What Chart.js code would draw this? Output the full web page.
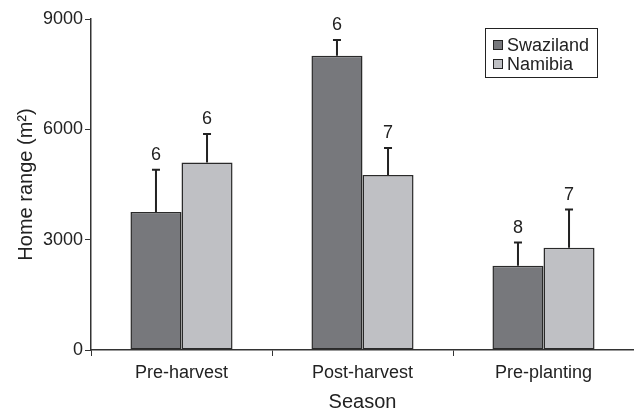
<!DOCTYPE html>
<html>
<head>
<meta charset="utf-8">
<script src="https://cdn.jsdelivr.net/npm/chart.js@4.4.1/dist/chart.umd.min.js"></script>
<style>
  html, body { margin: 0; padding: 0; background: #fff; }
  #wrap { width: 634px; height: 414px; }
</style>
</head>
<body>
<div id="wrap"><canvas id="hrChart"></canvas></div>
<script>
// datos
const seasons = ['Pre-harvest', 'Post-harvest', 'Pre-planting'];
const swazilandMean = [3750, 8000, 2290];
const swazilandErr = [1150, 430, 630];
const swazilandN = [6, 6, 8];
const namibiaMean = [5100, 4760, 2780];
const namibiaErr = [770, 730, 1040];
const namibiaN = [6, 7, 7];
const yTicks = [0, 3000, 6000, 9000];

const errs = [swazilandErr, namibiaErr];
const counts = [swazilandN, namibiaN];
const textColor = '#222';
const fontFam = '"Liberation Sans", Arial, sans-serif';

// barras de error + n arriba
const errorBarsPlugin = {
  id: 'errorBars',
  afterDatasetsDraw(chart) {
    const ctx = chart.ctx;
    const y = chart.scales.y;
    ctx.save();
    chart.data.datasets.forEach((ds, i) => {
      const meta = chart.getDatasetMeta(i);
      meta.data.forEach((bar, j) => {
        const top = y.getPixelForValue(ds.data[j] + errs[i][j]);
        ctx.strokeStyle = '#222';
        ctx.lineWidth = 2;
        ctx.beginPath();
        ctx.moveTo(bar.x, bar.y);
        ctx.lineTo(bar.x, top);
        ctx.moveTo(bar.x - 4, top);
        ctx.lineTo(bar.x + 4, top);
        ctx.stroke();
        ctx.fillStyle = textColor;
        ctx.font = '18px ' + fontFam;
        ctx.textAlign = 'center';
        ctx.textBaseline = 'alphabetic';
        ctx.fillText(String(counts[i][j]), bar.x, top - 10);
      });
    });
    ctx.restore();
  }
};

// leyenda con recuadro
const boxLegendPlugin = {
  id: 'boxLegend',
  afterDraw(chart) {
    const ctx = chart.ctx;
    const area = chart.chartArea;
    const x0 = area.right - 149, y0 = area.top + 9;
    const w = 112, h = 49;
    ctx.save();
    ctx.strokeStyle = '#222';
    ctx.lineWidth = 1;
    ctx.strokeRect(x0 + 0.5, y0 + 0.5, w, h);
    ctx.font = '18px ' + fontFam;
    ctx.textBaseline = 'middle';
    ctx.textAlign = 'left';
    chart.data.datasets.forEach((ds, i) => {
      const cy = y0 + 17 + i * 19;
      ctx.fillStyle = ds.backgroundColor;
      ctx.fillRect(x0 + 8, cy - 5, 10, 10);
      ctx.strokeStyle = '#222';
      ctx.strokeRect(x0 + 8.5, cy - 4.5, 9, 9);
      ctx.fillStyle = textColor;
      ctx.fillText(ds.label, x0 + 22, cy + 1);
    });
    ctx.restore();
  }
};

const ctx = document.getElementById('hrChart').getContext('2d');
new Chart(ctx, {
  type: 'bar',
  data: {
    labels: seasons,
    datasets: [
      {
        label: 'Swaziland',
        data: swazilandMean,
        backgroundColor: '#77787c',
        borderColor: '#2a2a2a',
        borderWidth: 1.5,
        borderSkipped: false,
        barPercentage: 1,
        categoryPercentage: 0.564
      },
      {
        label: 'Namibia',
        data: namibiaMean,
        backgroundColor: '#bfc0c4',
        borderColor: '#2a2a2a',
        borderWidth: 1.5,
        borderSkipped: false,
        barPercentage: 1,
        categoryPercentage: 0.564
      }
    ]
  },
  options: {
    responsive: true,
    maintainAspectRatio: false,
    animation: false,
    layout: { padding: { top: 19, right: 0, left: 0, bottom: 0 } },
    plugins: {
      legend: { display: false },
      tooltip: { enabled: false }
    },
    scales: {
      x: {
        grid: { display: true, drawOnChartArea: false, drawTicks: true, tickLength: 6, color: '#333', offset: true },
        border: { display: true, color: '#333', width: 1.5 },
        ticks: { color: textColor, font: { size: 18, family: fontFam }, padding: 6 },
        title: { display: true, text: 'Season', color: textColor, font: { size: 20, family: fontFam }, padding: { top: 0, bottom: 0 } },
        afterFit: function(scale) { scale.height = 64; }
      },
      y: {
        min: 0,
        max: 9000,
        afterBuildTicks: function(scale) { scale.ticks = yTicks.map(v => ({ value: v })); },
        grid: { display: true, drawOnChartArea: false, drawTicks: true, tickLength: 6, color: '#333' },
        border: { display: true, color: '#333', width: 1.5 },
        ticks: { color: textColor, font: { size: 18, family: fontFam }, padding: 2, callback: v => String(v) },
        title: { display: true, text: 'Home range (m²)', color: textColor, font: { size: 20, family: fontFam }, padding: { top: 14, bottom: 0 } },
        afterFit: function(scale) { scale.width = 91; }
      }
    }
  },
  plugins: [errorBarsPlugin, boxLegendPlugin]
});
</script>
</body>
</html>
